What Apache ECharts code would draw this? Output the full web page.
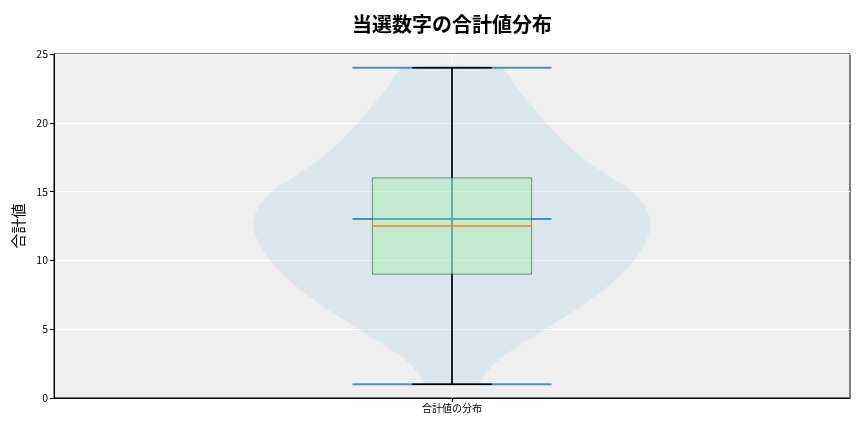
<!DOCTYPE html>
<html>
<head>
<meta charset="utf-8">
<script src="https://cdn.jsdelivr.net/npm/echarts@6/dist/echarts.min.js"></script>
<style>
html,body{margin:0;padding:0;background:#fff;}
#chart{width:864px;height:432px;}
</style>
</head>
<body>
<div id="chart"></div>
<script>
// ---- data ----
const chartTitle = '当選数字の合計値分布';
const yAxisTitle = '合計値';
const categories = ['合計値の分布'];
const yTicks = { min: 0, max: 25, interval: 5 };

// violin profile: value levels and relative half-width (density scaled to 1 at peak)
const violinLevels = [1.0, 1.3, 1.9, 2.9, 3.9, 5.1, 6.3, 7.5, 8.7, 10.0, 11.4, 12.6, 13.8, 15.0, 16.2, 17.4, 18.6, 20.0, 21.3, 22.5, 24.0];
const violinWidths = [0.136, 0.146, 0.176, 0.246, 0.347, 0.477, 0.613, 0.729, 0.829, 0.915, 0.975, 1.0, 0.975, 0.905, 0.779, 0.663, 0.563, 0.472, 0.397, 0.327, 0.245];

// box plot statistics
const boxMin = [1];
const boxQ1 = [9];
const boxMedian = [12.5];
const boxQ3 = [16];
const boxMax = [24];
const meanValue = [13];

// ---- chart ----
const FONT = '"Noto Sans CJK JP", "Noto Sans", sans-serif';
const chart = echarts.init(document.getElementById('chart'), null, { renderer: 'canvas' });

function renderItem(params, api) {
  const idx = api.value(0);
  const band = api.size([1, 0])[0];
  const cx = api.coord([idx, 0])[0];
  const yOf = v => api.coord([idx, v])[1];
  const children = [];
  const vHalf = band * 0.25;
  const lineHalf = band * 0.125;
  const boxHalf = band * 0.1;
  const capHalf = band * 0.05;
  const cs = params.coordSys;

  // vertical grid line at category centre
  children.push({ type: 'line', shape: { x1: cx, y1: cs.y, x2: cx, y2: cs.y + cs.height },
    style: { stroke: '#ffffff', lineWidth: 1 } });

  // violin body
  const pts = [];
  for (let i = 0; i < violinLevels.length; i++) pts.push([cx - violinWidths[i] * vHalf, yOf(violinLevels[i])]);
  for (let i = violinLevels.length - 1; i >= 0; i--) pts.push([cx + violinWidths[i] * vHalf, yOf(violinLevels[i])]);
  children.push({ type: 'polygon', shape: { points: pts, smooth: 0.25 },
    style: { fill: 'rgba(173,216,230,0.32)', stroke: null } });

  const blue = 'rgba(31,119,180,0.78)';
  const yMin = yOf(boxMin[idx]), yMax = yOf(boxMax[idx]);
  // violin centre bar, extremes and mean
  children.push({ type: 'line', shape: { x1: cx, y1: yMin, x2: cx, y2: yMax }, style: { stroke: blue, lineWidth: 2 } });
  [boxMin[idx], boxMax[idx], meanValue[idx]].forEach(v => {
    const y = yOf(v);
    children.push({ type: 'line', shape: { x1: cx - lineHalf, y1: y, x2: cx + lineHalf, y2: y }, style: { stroke: blue, lineWidth: 2 } });
  });

  // whiskers
  const yQ1 = yOf(boxQ1[idx]), yQ3 = yOf(boxQ3[idx]);
  children.push({ type: 'line', shape: { x1: cx, y1: yQ1, x2: cx, y2: yMin }, style: { stroke: '#000', lineWidth: 1.5 } });
  children.push({ type: 'line', shape: { x1: cx, y1: yQ3, x2: cx, y2: yMax }, style: { stroke: '#000', lineWidth: 1.5 } });
  [yMin, yMax].forEach(y => {
    children.push({ type: 'line', shape: { x1: cx - capHalf, y1: y, x2: cx + capHalf, y2: y }, style: { stroke: '#000', lineWidth: 1.5 } });
  });

  // box
  children.push({ type: 'rect', shape: { x: cx - boxHalf, y: yQ3, width: boxHalf * 2, height: yQ1 - yQ3 },
    style: { fill: 'rgba(144,238,144,0.3)', stroke: 'rgba(20,60,30,0.5)', lineWidth: 1 } });

  // median
  const yMed = yOf(boxMedian[idx]);
  children.push({ type: 'line', shape: { x1: cx - boxHalf, y1: yMed, x2: cx + boxHalf, y2: yMed }, style: { stroke: '#ff7f0e', lineWidth: 1.5 } });

  return { type: 'group', children: children };
}

chart.setOption({
  backgroundColor: '#ffffff',
  animation: false,
  title: {
    text: chartTitle,
    left: 452, top: 14, padding: 0, textAlign: 'center',
    textStyle: { fontFamily: FONT, fontSize: 20, fontWeight: 'bold', color: '#000' }
  },
  grid: {
    left: 54, right: 14, top: 54, bottom: 34,
    show: true, backgroundColor: '#efefef', borderColor: '#000', borderWidth: 1
  },
  xAxis: {
    type: 'category',
    data: categories,
    boundaryGap: true,
    axisLine: { show: true, lineStyle: { color: '#000', width: 1 } },
    axisTick: { show: true, alignWithLabel: true, length: 4, lineStyle: { color: '#000' } },
    axisLabel: { fontFamily: FONT, fontSize: 10, color: '#000', margin: 5 },
    splitLine: { show: false }
  },
  yAxis: {
    type: 'value',
    min: yTicks.min, max: yTicks.max, interval: yTicks.interval,
    name: yAxisTitle,
    nameLocation: 'middle',
    nameGap: 25,
    nameTextStyle: { fontFamily: FONT, fontSize: 15, color: '#000' },
    axisLine: { show: true, lineStyle: { color: '#000', width: 1 } },
    axisTick: { show: true, length: 4, lineStyle: { color: '#000' } },
    axisLabel: { fontFamily: FONT, fontSize: 10.5, color: '#000', margin: 6 },
    splitLine: { show: true, lineStyle: { color: '#ffffff', width: 1 } }
  },
  series: [{
    type: 'custom',
    renderItem: renderItem,
    data: [[0]],
    clip: true,
    silent: true
  }]
});
</script>
</body>
</html>
